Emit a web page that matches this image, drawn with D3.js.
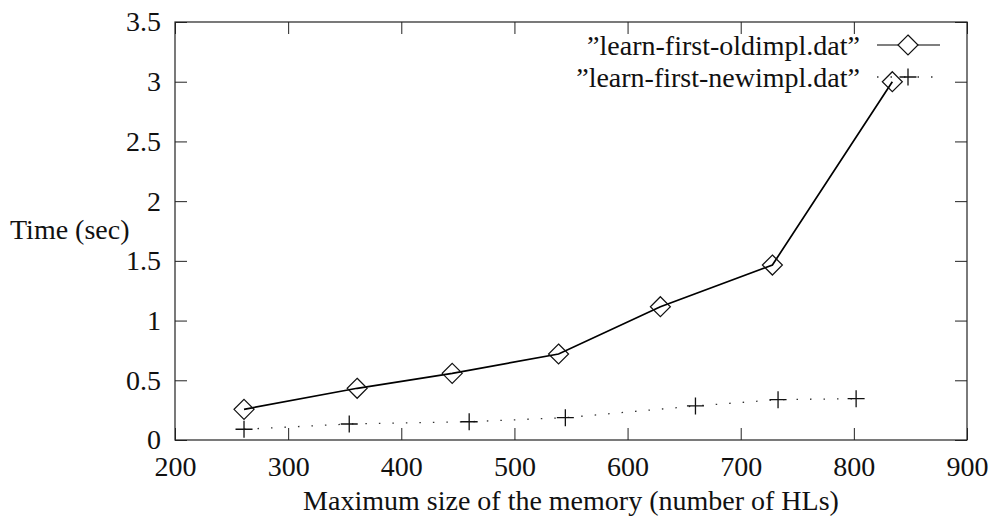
<!DOCTYPE html>
<html>
<head>
<meta charset="utf-8">
<script src="https://cdn.jsdelivr.net/npm/d3@7"></script>
<style>
  html, body { margin: 0; padding: 0; background: #fff; }
  text { font-family: "Liberation Serif", "DejaVu Serif", serif; fill: #111; }
</style>
</head>
<body>
<div id="chart"></div>
<script>
// values
var oldSizes = [261, 361, 445, 539, 629, 728, 834];
var oldTimes = [0.257, 0.433, 0.558, 0.72, 1.116, 1.465, 3.0];
var newSizes = [261, 354, 460, 545, 660, 733, 802];
var newTimes = [0.09, 0.134, 0.153, 0.187, 0.285, 0.338, 0.346];
var seriesNames = ["\u201Dlearn-first-oldimpl.dat\u201D", "\u201Dlearn-first-newimpl.dat\u201D"];
var xTicks = [200, 300, 400, 500, 600, 700, 800, 900];
var yTicks = [0, 0.5, 1, 1.5, 2, 2.5, 3, 3.5];

var w = 995, h = 518;
var m = { left: 175, right: 28, top: 22, bottom: 78 };
var fontSize = 28;

var svg = d3.select("#chart")
  .append("svg")
  .attr("width", w)
  .attr("height", h);

var x = d3.scaleLinear().domain([200, 900]).range([m.left, w - m.right]);
var y = d3.scaleLinear().domain([0, 3.5]).range([h - m.bottom, m.top]);

var oldData = oldSizes.map((s, i) => ({ x: s, y: oldTimes[i] }));
var newData = newSizes.map((s, i) => ({ x: s, y: newTimes[i] }));

// axes: ticks point inward, mirrored on top and right
var axBottom = svg.append("g")
  .attr("transform", "translate(0," + y(0) + ")")
  .call(d3.axisBottom(x).tickValues(xTicks).tickSizeInner(-12).tickSizeOuter(0).tickPadding(16).tickFormat(d3.format("d")));
var axLeft = svg.append("g")
  .attr("transform", "translate(" + x(200) + ",0)")
  .call(d3.axisLeft(y).tickValues(yTicks).tickSizeInner(-12).tickSizeOuter(0).tickPadding(14).tickFormat(d => String(d)));
var axTop = svg.append("g")
  .attr("transform", "translate(0," + y(3.5) + ")")
  .call(d3.axisTop(x).tickValues(xTicks).tickSizeInner(-12).tickSizeOuter(0).tickFormat(""));
var axRight = svg.append("g")
  .attr("transform", "translate(" + x(900) + ",0)")
  .call(d3.axisRight(y).tickValues(yTicks).tickSizeInner(-12).tickSizeOuter(0).tickFormat(""));

[axBottom, axLeft, axTop, axRight].forEach(g => {
  g.select(".domain").remove();
  g.selectAll("line").attr("stroke", "#222").attr("stroke-width", 1);
  g.selectAll("text")
    .style("font-family", '"Liberation Serif", serif')
    .style("font-size", fontSize + "px")
    .attr("fill", "#111");
});

// frame
svg.append("rect")
  .attr("x", x(200))
  .attr("y", y(3.5))
  .attr("width", x(900) - x(200))
  .attr("height", y(0) - y(3.5))
  .attr("fill", "none")
  .attr("stroke", "#222")
  .attr("stroke-width", 1.2);

// axis titles
svg.append("text")
  .attr("x", 10)
  .attr("y", 239)
  .style("font-size", fontSize + "px")
  .text("Time (sec)");

svg.append("text")
  .attr("x", (x(200) + x(900)) / 2)
  .attr("y", 510)
  .style("text-anchor", "middle")
  .style("font-size", fontSize + "px")
  .text("Maximum size of the memory (number of HLs)");

var line = d3.line().x(d => x(d.x)).y(d => y(d.y));
var diamond = "M0,-10L10,0L0,10L-10,0Z";
var plus = "M-8.5,0H8.5M0,-8.5V8.5";

// old implementation: solid line with diamonds
svg.append("path")
  .datum(oldData)
  .attr("d", line)
  .attr("fill", "none")
  .attr("stroke", "#000")
  .attr("stroke-width", 1.7);

svg.selectAll(".dia")
  .data(oldData)
  .enter().append("path")
  .attr("class", "dia")
  .attr("transform", d => "translate(" + x(d.x) + "," + y(d.y) + ")")
  .attr("d", diamond)
  .attr("fill", "none")
  .attr("stroke", "#111")
  .attr("stroke-width", 1.2);

// new implementation: dotted line with plus marks
svg.append("path")
  .datum(newData)
  .attr("d", line)
  .attr("fill", "none")
  .attr("stroke", "#333")
  .attr("stroke-width", 1.3)
  .attr("stroke-dasharray", "1.5,12");

svg.selectAll(".plus")
  .data(newData)
  .enter().append("path")
  .attr("class", "plus")
  .attr("transform", d => "translate(" + x(d.x) + "," + y(d.y) + ")")
  .attr("d", plus)
  .attr("fill", "none")
  .attr("stroke", "#111")
  .attr("stroke-width", 1.3);

// legend
var legendRows = [45, 77];
var legend = svg.append("g");

legend.selectAll("text")
  .data(seriesNames)
  .enter().append("text")
  .attr("x", 860)
  .attr("y", (d, i) => legendRows[i])
  .attr("dy", "0.35em")
  .style("text-anchor", "end")
  .style("font-size", fontSize + "px")
  .text(d => d);

legend.append("line")
  .attr("x1", 877).attr("x2", 940)
  .attr("y1", legendRows[0]).attr("y2", legendRows[0])
  .attr("stroke", "#000").attr("stroke-width", 1.2);
legend.append("path")
  .attr("transform", "translate(908," + legendRows[0] + ")")
  .attr("d", diamond)
  .attr("fill", "#fff")
  .attr("stroke", "#111")
  .attr("stroke-width", 1.2);

legend.append("line")
  .attr("x1", 877).attr("x2", 940)
  .attr("y1", legendRows[1]).attr("y2", legendRows[1])
  .attr("stroke", "#333").attr("stroke-width", 1.3)
  .attr("stroke-dasharray", "1.5,12");
legend.append("path")
  .attr("transform", "translate(908," + legendRows[1] + ")")
  .attr("d", plus)
  .attr("fill", "none")
  .attr("stroke", "#111")
  .attr("stroke-width", 1.3);
</script>
</body>
</html>
